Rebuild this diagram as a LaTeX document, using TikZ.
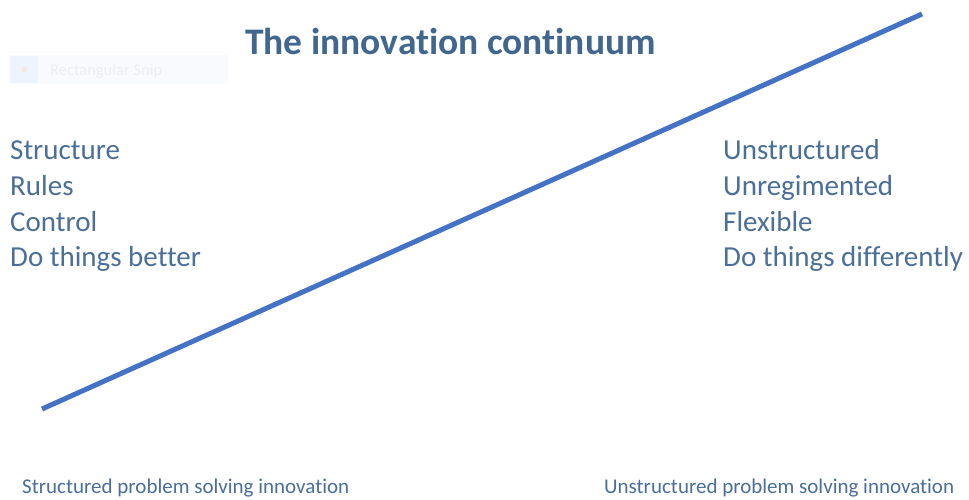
\documentclass[tikz,border=0pt]{standalone}
\usepackage{fontspec}
\setmainfont[Ligatures=NoCommon]{Carlito}
\definecolor{titleblue}{HTML}{41678F}
\definecolor{textblue}{HTML}{4A6F99}
\definecolor{lineblue}{HTML}{4472C4}
\definecolor{snipbg}{HTML}{F8FAFE}
\definecolor{snipicon}{HTML}{EEF4FD}
\definecolor{snipdot}{HTML}{F6E9E4}
\definecolor{sniptext}{HTML}{EEEEF0}
\begin{document}
\begin{tikzpicture}[x=1pt,y=-1pt,
  body/.style={anchor=base west,inner sep=0pt,text=textblue,font=\fontsize{29}{34}\selectfont},
  foot/.style={anchor=base west,inner sep=0pt,text=textblue,font=\fontsize{21}{25}\selectfont},
  ttl/.style={anchor=base west,inner sep=0pt,text=titleblue,font=\fontsize{37.5}{45}\selectfont\bfseries}]
\useasboundingbox[fill=white] (0,0) rectangle (969,499);
% faint snip artifact
\node[fill=snipbg,minimum width=218pt,minimum height=29pt,anchor=north west,inner sep=0pt] (snip) at (10,55) {};
\node[fill=snipicon,minimum width=28pt,minimum height=27pt,anchor=north west,inner sep=0pt] (snipicon) at (10,56) {};
\node[fill=snipdot,minimum size=5pt,inner sep=0pt] (snipdot) at (24,69) {};
\node[anchor=base west,inner sep=0pt,text=sniptext,font=\fontsize{16.5}{19}\selectfont] (sniptext) at (50,75) {Rectangular Snip};
% title
\node[ttl] (title) at (245,54) {The innovation continuum};
% line
\coordinate (a) at (42,409);
\coordinate (b) at (922,14);
\draw[lineblue,line width=5pt] (a) -- (b);
% left list
\node[body] (l1) at (10,159.5) {Structure};
\node[body] (l2) at (10,195.5) {Rules};
\node[body] (l3) at (10,231) {Control};
\node[body] (l4) at (10,266.5) {Do things better};
% right list
\node[body] (r1) at (723,159.5) {Unstructured};
\node[body] (r2) at (723,195.5) {Unregimented};
\node[body] (r3) at (723,231) {Flexible};
\node[body] (r4) at (723,266.5) {Do things differently};
% footers
\node[foot] (f1) at (22,493) {Structured problem solving innovation};
\node[foot] (f2) at (604,493) {Unstructured problem solving innovation};
\end{tikzpicture}
\end{document}
